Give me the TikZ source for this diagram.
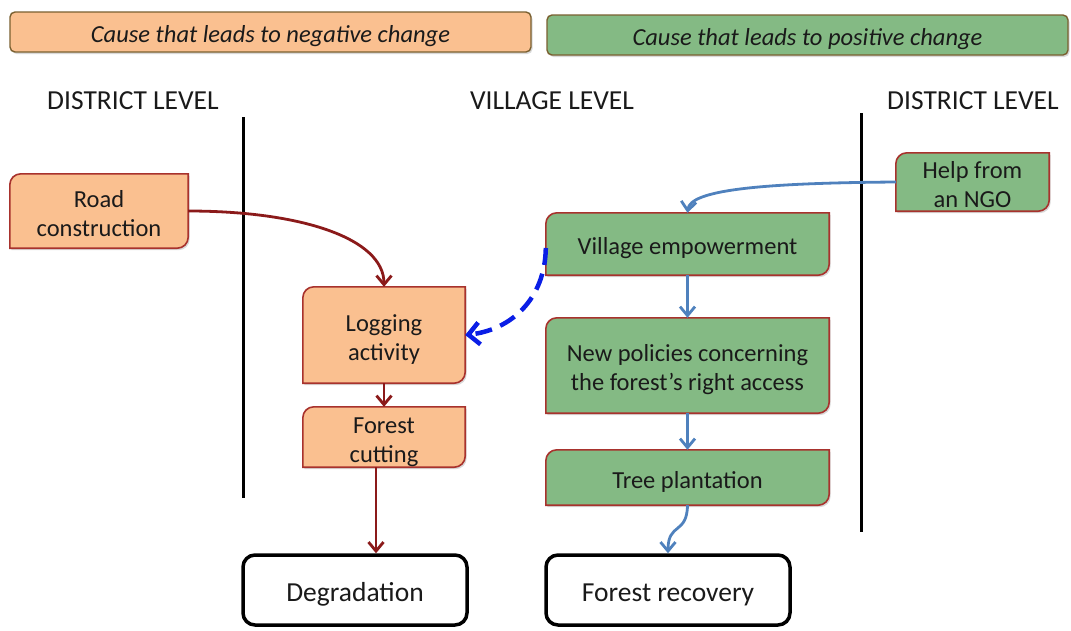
\documentclass[tikz,border=0pt]{standalone}
\usepackage{fontspec}
\setmainfont{Carlito}
\usetikzlibrary{shadows,arrows.meta,calc}
\pgfdeclarelayer{background}
\pgfsetlayers{background,main}
\definecolor{orf}{HTML}{FAC090}
\definecolor{ord}{HTML}{A8322D}
\definecolor{grf}{HTML}{84BA84}
\definecolor{hdrline}{HTML}{7A6030}
\definecolor{redarrow}{HTML}{8B1A1A}
\definecolor{bluearrow}{HTML}{4F81BD}
\definecolor{dashblue}{HTML}{0A1EE6}
\definecolor{txtc}{HTML}{1A1A1A}
\newcommand{\lt}[1]{\raisebox{-5pt}[\height][\depth]{\begin{tabular}{@{}c@{}}#1\end{tabular}}}
\tikzset{
  x=1pt, y=1pt,
  txt/.style={font=\fontsize{24.5}{29}\selectfont, align=center, inner sep=0pt, text=txtc, rectangle},
  lvl/.style={font=\fontsize{27.5}{32}\selectfont, inner sep=0pt, text=txtc},
  shp/.style={draw=ord, line width=1.6pt, drop shadow={opacity=0.3,shadow xshift=1.5pt,shadow yshift=-2pt}},
  hdr/.style={txt, font=\fontsize{24.5}{29}\selectfont\itshape, draw=hdrline, line width=1.4pt, rounded corners=5pt,
     drop shadow={opacity=0.3,shadow xshift=1.5pt,shadow yshift=-2pt}},
  outc/.style={txt, font=\fontsize{27.5}{32}\selectfont, draw=black, line width=3.5pt, rounded corners=12pt, fill=white},
  rarr/.style={draw=redarrow, line width=2.8pt, -{Straight Barb[length=9pt,width=15pt,line width=2.8pt]}},
  barr/.style={draw=bluearrow, line width=2.8pt, -{Straight Barb[length=9pt,width=15pt,line width=2.8pt]}},
  darr/.style={draw=dashblue, line width=4.5pt, dash pattern=on 17pt off 9pt, -{Straight Barb[length=11pt,width=22pt,line width=4.5pt]}},
  sep/.style={draw=black, line width=3pt}
}
\newcommand{\diagshape}[2]{\path[shp,#2] ([yshift=-11pt]#1.north west) arc[start angle=180,end angle=90,radius=11pt] -- (#1.north east) -- ([yshift=11pt]#1.south east) arc[start angle=0,end angle=-90,radius=11pt] -- (#1.south west) -- cycle;}
\begin{document}
\begin{tikzpicture}
\useasboundingbox (0,0) rectangle (1071,-630);

% headers
\node[hdr, fill=orf, minimum width=521pt, minimum height=40pt] (hneg) at (270.5,-32) {\lt{Cause that leads to negative change}};
\node[hdr, fill=grf, minimum width=521pt, minimum height=40pt] (hpos) at (807.5,-35) {\lt{Cause that leads to positive change}};

% level labels
\node[lvl] (ldl) at (133,-98) {\lt{DISTRICT LEVEL}};
\node[lvl] (lvl) at (552,-98) {\lt{VILLAGE LEVEL}};
\node[lvl] (ldr) at (973,-98) {\lt{DISTRICT LEVEL}};

% separators
\coordinate (s1t) at (243,-117); \coordinate (s1b) at (243,-498);
\coordinate (s2t) at (861,-113); \coordinate (s2b) at (861,-532);
\draw[sep] (s1t) -- (s1b);
\draw[sep] (s2t) -- (s2b);

% boxes
\node[txt, minimum width=178pt, minimum height=74pt] (road) at (99,-211) {\lt{Road\\construction}};
\node[txt, minimum width=162pt, minimum height=96pt] (log) at (384,-335) {\lt{Logging\\activity}};
\node[txt, minimum width=162pt, minimum height=60pt] (cut) at (384,-437) {\lt{Forest\\cutting}};
\node[txt, minimum width=283pt, minimum height=62pt] (ve) at (687.5,-244) {\lt{Village empowerment}};
\node[txt, minimum width=283pt, minimum height=95pt] (np) at (687.5,-365.5) {\lt{New policies concerning\\the forest’s right access}};
\node[txt, minimum width=283pt, minimum height=55pt] (tp) at (687.5,-477.5) {\lt{Tree plantation}};
\node[txt, minimum width=153pt, minimum height=58pt] (ngo) at (972.5,-182) {\lt{Help from\\an NGO}};
\node[outc, minimum width=224pt, minimum height=70pt] (deg) at (355,-590) {\lt{Degradation}};
\node[outc, minimum width=244pt, minimum height=70pt] (fr) at (668,-590) {\lt{Forest recovery}};

\begin{pgfonlayer}{background}
\diagshape{road}{fill=orf}
\diagshape{log}{fill=orf}
\diagshape{cut}{fill=orf}
\diagshape{ve}{fill=grf}
\diagshape{np}{fill=grf}
\diagshape{tp}{fill=grf}
\diagshape{ngo}{fill=grf}
\end{pgfonlayer}

% connectors
\draw[rarr] (road.east) .. controls (300,-211) and (384,-238) .. (log.north);
\draw[rarr] (log.south) -- (cut.north);
\draw[rarr] ([xshift=-8pt]cut.south) -- ([xshift=-8pt]cut.south |- deg.north);
\draw[barr] (ngo.west) .. controls (760,-183) and (690,-190) .. (ve.north);
\draw[barr] (ve.south) -- (np.north);
\draw[barr] (np.south) -- (tp.north);
\draw[barr] (tp.south) .. controls (687,-535) and (668,-522) .. (fr.north);
\draw[darr] ([yshift=-4pt]ve.west) .. controls (545,-300) and (510,-330) .. (log.east);
\end{tikzpicture}
\end{document}
